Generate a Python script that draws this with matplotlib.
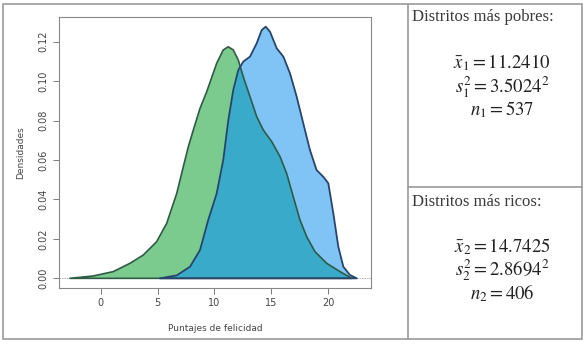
import numpy as np
import matplotlib.pyplot as plt
from matplotlib.patches import Rectangle

# ── Density curves ───────────────────────────────────────────────────────────
pobres_x = [-2.7, -0.65, 1.1, 2.57, 3.74, 4.92, 5.8, 6.68, 7.26, 7.7, 8.14,
            8.73, 9.31, 9.6, 10.19, 10.77, 11.21, 11.65, 12.09, 12.53, 13.12,
            13.71, 14.29, 15.03, 15.76, 16.34, 16.92, 17.51, 18.1, 18.83,
            19.86, 21.03, 22.06]
pobres_y = [0.0, 0.0012, 0.0034, 0.0076, 0.0118, 0.0186, 0.0279, 0.043,
            0.0566, 0.0667, 0.0752, 0.0862, 0.0945, 0.0993, 0.109, 0.1158,
            0.1174, 0.1158, 0.1107, 0.1022, 0.0921, 0.082, 0.0752, 0.0693,
            0.0617, 0.0532, 0.0414, 0.0296, 0.0211, 0.0135, 0.0076, 0.0034,
            0.0]

ricos_x = [5.2, 6.68, 7.85, 8.73, 9.45, 10.19, 10.77, 11.21, 11.65, 12.09,
           12.53, 13.12, 13.71, 14.15, 14.5, 14.88, 15.47, 16.05, 16.63,
           17.22, 17.8, 18.39, 18.97, 19.56, 20.0, 20.44, 20.88, 21.32, 21.9,
           22.5]
ricos_y = [0.0, 0.0015, 0.0059, 0.0144, 0.0296, 0.043, 0.060, 0.080, 0.0955,
           0.1056, 0.1099, 0.1124, 0.1192, 0.1259, 0.1276, 0.125, 0.1166,
           0.1124, 0.104, 0.0921, 0.0786, 0.065, 0.0549, 0.0515, 0.0482,
           0.033, 0.016, 0.0059, 0.0017, 0.0]

x_ticks = [0, 5, 10, 15, 20]
y_ticks = [0.00, 0.02, 0.04, 0.06, 0.08, 0.10, 0.12]

stats_pobres = [r"$\bar{x}_1 = 11.2410$", r"$s_1^2 = 3.5024^2$", r"$n_1 = 537$"]
stats_ricos = [r"$\bar{x}_2 = 14.7425$", r"$s_2^2 = 2.8694^2$", r"$n_2 = 406$"]

GREEN = "#7CCB8E"
BLUE = "#80C4F5"
TEAL = "#3AAACB"
TXT = "#444444"

plt.rcParams["mathtext.fontset"] = "stix"

fig = plt.figure(figsize=(5.83, 3.45), dpi=100)
W, H = 583, 345

# ── Outer frame and right-hand table ─────────────────────────────────────────
frame = dict(transform=fig.transFigure, fill=False, edgecolor="#9A9A9A", linewidth=1.2)
fig.patches.append(Rectangle((3 / W, 1 - 339 / H), 579 / W, 335 / H, **frame))
fig.add_artist(plt.Line2D([408 / W, 408 / W], [1 - 339 / H, 1 - 4 / H],
                          color="#9A9A9A", linewidth=1.2))
fig.add_artist(plt.Line2D([408 / W, 582 / W], [1 - 187 / H, 1 - 187 / H],
                          color="#9A9A9A", linewidth=1.2))

# ── Density plot ─────────────────────────────────────────────────────────────
ax = fig.add_axes([59 / W, 1 - 288 / H, 312 / W, 271 / H])
ax.set_xlim(-3.66, 23.75)
ax.set_ylim(-0.0049, 0.1325)

ax.axhline(0, color="#AAAAAA", linewidth=0.6, linestyle=(0, (2, 1)), zorder=1)

g = ax.fill(pobres_x, pobres_y, facecolor=GREEN, edgecolor="none", zorder=2)[0]
ax.fill(ricos_x, ricos_y, facecolor=BLUE, edgecolor="none", zorder=3)
overlap = ax.fill(ricos_x, ricos_y, facecolor=TEAL, edgecolor="none", zorder=4)[0]
overlap.set_clip_path(g)

ax.fill(pobres_x, pobres_y, facecolor="none", edgecolor="#2F5B45", linewidth=1.2,
        joinstyle="round", zorder=5)
ax.fill(ricos_x, ricos_y, facecolor="none", edgecolor="#27456B", linewidth=1.3,
        joinstyle="round", zorder=6)

ax.set_xticks(x_ticks)
ax.set_yticks(y_ticks)
ax.set_yticklabels([f"{v:.2f}" for v in y_ticks], rotation=90, va="center")
ax.tick_params(labelsize=7, colors="#666666", length=4, width=0.6, direction="out")
for lbl in ax.get_xticklabels() + ax.get_yticklabels():
    lbl.set_color(TXT)
for sp in ax.spines.values():
    sp.set_color("#888888")
    sp.set_linewidth(0.8)

ax.set_xlabel("Puntajes de felicidad", fontsize=6.5, color=TXT, labelpad=11)
ax.set_ylabel("Densidades", fontsize=6.5, color=TXT, labelpad=10)

# ── Summary statistics ───────────────────────────────────────────────────────
serif = ["Liberation Serif", "DejaVu Serif"]
fig.text(412 / W, 1 - 17 / H, "Distritos más pobres:", family=serif,
         fontsize=12, color="#3A3A3A", va="center", ha="left")
fig.text(412 / W, 1 - 202 / H, "Distritos más ricos:", family=serif,
         fontsize=12, color="#3A3A3A", va="center", ha="left")

for y, s in zip([63, 87, 110], stats_pobres):
    fig.text(502 / W, 1 - y / H, s, fontsize=13.5, color="#222222", ha="center", va="center")
for y, s in zip([247, 270, 293], stats_ricos):
    fig.text(502 / W, 1 - y / H, s, fontsize=13.5, color="#222222", ha="center", va="center")

fig.savefig("out.png", dpi=100, facecolor="white")
